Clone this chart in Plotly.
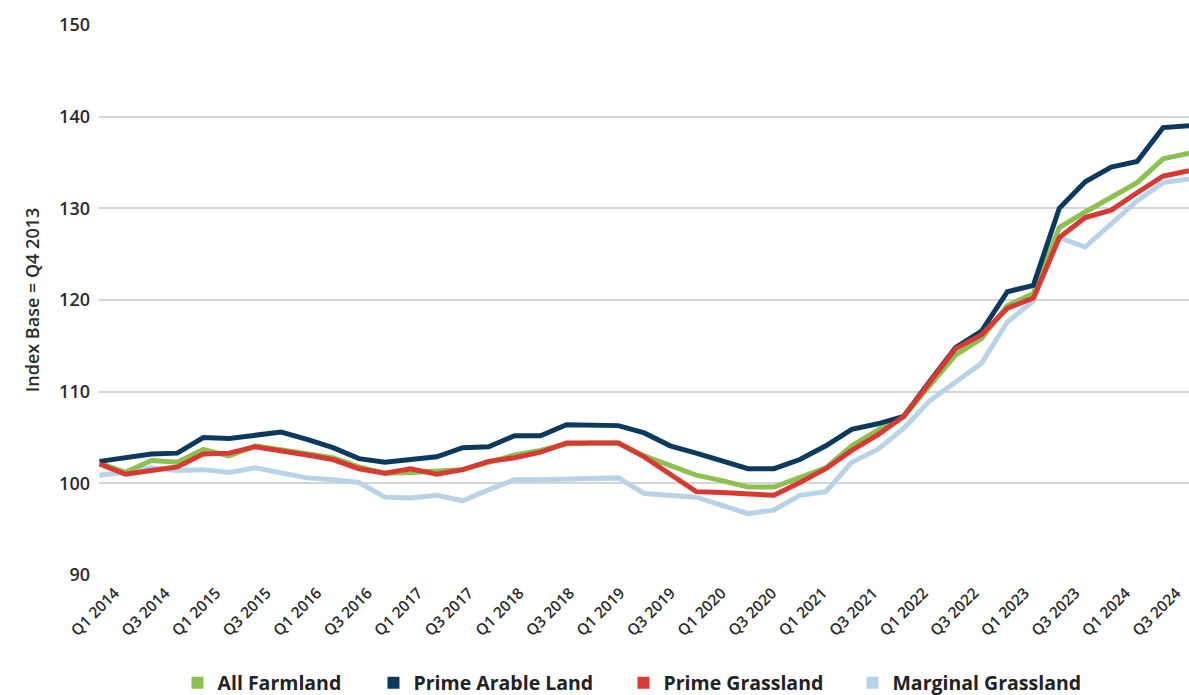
import plotly.graph_objects as go

quarters = [
    "Q1 2014", "Q2 2014", "Q3 2014", "Q4 2014",
    "Q1 2015", "Q2 2015", "Q3 2015", "Q4 2015",
    "Q1 2016", "Q2 2016", "Q3 2016", "Q4 2016",
    "Q1 2017", "Q2 2017", "Q3 2017", "Q4 2017",
    "Q1 2018", "Q2 2018", "Q3 2018", "Q4 2018",
    "Q1 2019", "Q2 2019", "Q3 2019", "Q4 2019",
    "Q1 2020", "Q2 2020", "Q3 2020", "Q4 2020",
    "Q1 2021", "Q2 2021", "Q3 2021", "Q4 2021",
    "Q1 2022", "Q2 2022", "Q3 2022", "Q4 2022",
    "Q1 2023", "Q2 2023", "Q3 2023", "Q4 2023",
    "Q1 2024", "Q2 2024", "Q3 2024",
]
tick_labels = [
    "Q1 2014", "Q3 2014", "Q1 2015", "Q3 2015", "Q1 2016", "Q3 2016",
    "Q1 2017", "Q3 2017", "Q1 2018", "Q3 2018", "Q1 2019", "Q3 2019",
    "Q1 2020", "Q3 2020", "Q1 2021", "Q3 2021", "Q1 2022", "Q3 2022",
    "Q1 2023", "Q3 2023", "Q1 2024", "Q3 2024",
]

all_farmland = [
    102.2, 101.2, 102.5, 102.3, 103.7, 103.0, 104.1, 103.7,
    103.3, 102.8, 101.8, 101.1, 101.2, 101.4, 101.5, 102.3,
    103.1, 103.6, 104.3, 104.4, 104.4, 103.0, 102.0, 100.9,
    100.3, 99.6, 99.6, 100.7, 101.7, 104.1, 105.8, 107.3,
    110.7, 114.0, 115.8, 119.4, 120.7, 127.9, 129.6, 131.2,
    132.8, 135.4, 136.0,
]
prime_arable = [
    102.4, 102.8, 103.2, 103.3, 105.0, 104.9, 105.2, 105.6,
    104.8, 103.9, 102.7, 102.3, 102.6, 102.9, 103.9, 104.0,
    105.2, 105.2, 106.4, 106.4, 106.3, 105.5, 104.1, 103.3,
    102.5, 101.6, 101.6, 102.6, 104.1, 105.9, 106.5, 107.3,
    111.1, 114.8, 116.6, 120.9, 121.6, 130.0, 132.9, 134.5,
    135.1, 138.8, 139.0,
]
prime_grassland = [
    102.1, 101.0, 101.4, 101.8, 103.2, 103.3, 104.0, 103.6,
    103.1, 102.6, 101.6, 101.1, 101.6, 101.0, 101.5, 102.4,
    102.8, 103.4, 104.4, 104.4, 104.4, 102.9, 101.0, 99.1,
    99.0, 98.9, 98.7, 100.1, 101.6, 103.6, 105.3, 107.3,
    111.0, 114.7, 116.2, 119.1, 120.2, 126.8, 129.0, 129.8,
    131.7, 133.5, 134.1,
]
marginal_grassland = [
    100.9, 101.2, 101.7, 101.4, 101.5, 101.2, 101.7, 101.2,
    100.6, 100.4, 100.1, 98.5, 98.4, 98.7, 98.1, 99.3,
    100.4, 100.4, 100.5, 100.5, 100.6, 98.9, 98.7, 98.5,
    97.6, 96.7, 97.1, 98.7, 99.1, 102.3, 103.7, 106.0,
    109.0, 111.0, 113.1, 117.6, 119.9, 126.8, 125.8, 128.3,
    130.8, 132.8, 133.2,
]

series = [
    ("Marginal Grassland", marginal_grassland, "#b8d3e8", 230),
    ("All Farmland", all_farmland, "#8cc152", 151),
    ("Prime Arable Land", prime_arable, "#0c3a5e", 205),
    ("Prime Grassland", prime_grassland, "#d63a32", 184),
]
legend_order = ["All Farmland", "Prime Arable Land", "Prime Grassland", "Marginal Grassland"]

fig = go.Figure()
for name, vals, color, lw in series:
    fig.add_trace(go.Scatter(
        x=quarters, y=vals, mode="lines", name=name,
        line=dict(color=color, width=5), showlegend=False,
        xaxis="x", yaxis="y",
    ))

lookup = {s[0]: s for s in series}
for name in legend_order:
    _, _, color, lw = lookup[name]
    fig.add_trace(go.Scatter(
        x=[None], y=[None], mode="markers", name=name,
        marker=dict(symbol="square", size=14, color=color),
        showlegend=True, legendwidth=lw, xaxis="x2", yaxis="y",
    ))

fig.update_layout(
    width=1189, height=695,
    margin=dict(l=99, r=0, t=24, b=119, autoexpand=False),
    paper_bgcolor="white", plot_bgcolor="white",
    font=dict(family="Open Sans", color="#2b2b2b"),
    showlegend=True,
    legend=dict(
        orientation="h", x=0.072, xanchor="left", y=-0.194, yanchor="middle",
        font=dict(size=19.5, color="#222222", weight="bold"),
        itemsizing="constant", bgcolor="rgba(0,0,0,0)",
    ),
    xaxis=dict(
        type="category", categoryorder="array", categoryarray=quarters,
        range=[-0.02, 42.0], automargin=False,
        showticklabels=False,
        showgrid=False, zeroline=False, showline=False, ticks="",
    ),
    xaxis2=dict(
        type="category", categoryorder="array", categoryarray=quarters,
        overlaying="x", anchor="y", side="bottom",
        range=[-0.627, 42.5], automargin=False,
        tickvals=tick_labels, tickangle=-45,
        tickfont=dict(size=15.5, color="#2b2b2b", weight=600),
        ticklabelstandoff=4,
        showgrid=False, zeroline=False, showline=False, ticks="",
    ),
    yaxis=dict(
        range=[89.9, 150.1], tickvals=[90, 100, 110, 120, 130, 140, 150],
        automargin=False,
        tickfont=dict(size=18, color="#2b2b2b", weight=600),
        showgrid=True, gridcolor="#d4d4d4", gridwidth=2,
        zeroline=False, showline=False, ticks="", ticklabelstandoff=8,
        title=dict(text="Index Base = Q4 2013",
                   font=dict(size=18, color="#2b2b2b", weight=600), standoff=14),
    ),
)

fig.write_html("out.html")
